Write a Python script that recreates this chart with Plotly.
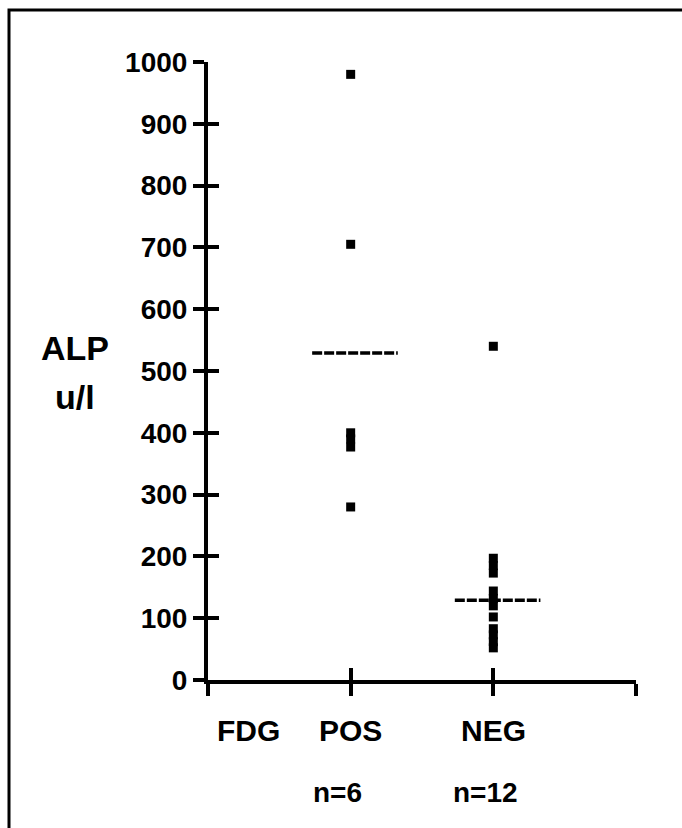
import plotly.graph_objects as go

# ---- data ----
categories = ["POS", "NEG"]
cat_x = [1, 2]
pos_values = [980, 705, 400, 390, 377, 280]
neg_values = [540, 197, 185, 173, 144, 132, 120, 102, 83, 73, 62, 52]
mean_values = [529, 129]
n_labels = ["n=6", "n=12"]
y_ticks = [0, 100, 200, 300, 400, 500, 600, 700, 800, 900, 1000]
x_ticks = [0, 1, 2, 3]

W, H = 682, 828
L, R, T, B = 208, 46, 62, 148
pw, ph = W - L - R, H - T - B

FONT = "Liberation Sans, Arial, Helvetica, sans-serif"
ink = "black"

fig = go.Figure()

fig.add_trace(go.Scatter(
    x=[cat_x[0]] * len(pos_values), y=pos_values, mode="markers",
    marker=dict(symbol="square", size=9, color=ink), showlegend=False, hoverinfo="y"))
fig.add_trace(go.Scatter(
    x=[cat_x[1]] * len(neg_values), y=neg_values, mode="markers",
    marker=dict(symbol="square", size=9, color=ink), showlegend=False, hoverinfo="y"))

for cx, m in zip(cat_x, mean_values):
    fig.add_trace(go.Scatter(
        x=[cx - 0.27, cx + 0.33], y=[m, m], mode="lines",
        line=dict(color=ink, width=3.5, dash="10px,2px"),
        showlegend=False, hoverinfo="skip"))

# invisible trace to create overlay axes for inside ticks
fig.add_trace(go.Scatter(x=[None], y=[None], xaxis="x2", yaxis="y2",
                         showlegend=False, hoverinfo="skip"))

axis_common = dict(showgrid=False, zeroline=False)
fig.update_layout(
    width=W, height=H,
    margin=dict(l=L, r=R, t=T, b=B),
    paper_bgcolor="white", plot_bgcolor="white",
    font=dict(family=FONT, color=ink),
    xaxis=dict(range=[0, 3], tickvals=x_ticks, showticklabels=False,
               ticks="outside", ticklen=12, tickwidth=4, tickcolor=ink,
               showline=True, linewidth=4, linecolor=ink, **axis_common),
    yaxis=dict(range=[0, 1000], tickvals=y_ticks,
               ticks="outside", ticklen=11, tickwidth=4, tickcolor=ink,
               showline=True, linewidth=4, linecolor=ink,
               tickfont=dict(family=FONT, size=28, color=ink, weight="bold"),
               **axis_common),
    xaxis2=dict(range=[0, 3], tickvals=x_ticks, showticklabels=False,
                ticks="inside", ticklen=12, tickwidth=4, tickcolor=ink,
                overlaying="x", anchor="y2", side="bottom", showline=False, **axis_common),
    yaxis2=dict(range=[0, 1000], tickvals=y_ticks, showticklabels=False,
                ticks="inside", ticklen=11, tickwidth=4, tickcolor=ink,
                overlaying="y", anchor="x2", side="left", showline=False, **axis_common),
)

def px_to_paper_x(px):
    return (px - L) / pw

def px_to_paper_y(py):
    return (H - B - py) / ph

# frame
fig.add_shape(type="rect", xref="paper", yref="paper",
              x0=px_to_paper_x(9), x1=px_to_paper_x(720),
              y0=px_to_paper_y(870), y1=px_to_paper_y(10),
              line=dict(color=ink, width=3), fillcolor="rgba(0,0,0,0)", layer="below")

big = dict(family=FONT, size=30, color=ink, weight="bold")
nfont = dict(family=FONT, size=28, color=ink, weight="bold")
ann = []
def add(text, x, y, font, xref="paper", xshift=0):
    ann.append(dict(text=text, x=x, xref=xref, y=y, yref="paper",
                    xanchor="center", yanchor="middle", showarrow=False,
                    font=font, xshift=xshift))

alp_font = dict(family=FONT, size=34, color=ink, weight="bold")
add("ALP", px_to_paper_x(75), px_to_paper_y(348), alp_font)
add("u/l", px_to_paper_x(75), px_to_paper_y(397), alp_font)
add("FDG", px_to_paper_x(248), px_to_paper_y(730), big)
for cx, name, nl, off in zip(cat_x, categories, n_labels, [-13, -8]):
    add(name, cx, px_to_paper_y(730), big, xref="x", xshift=0)
    add(nl, cx, px_to_paper_y(792), nfont, xref="x", xshift=off)
fig.update_layout(annotations=ann)

fig.write_html("out.html", config={"displayModeBar": False},
               post_script="document.body.style.margin='0';")
